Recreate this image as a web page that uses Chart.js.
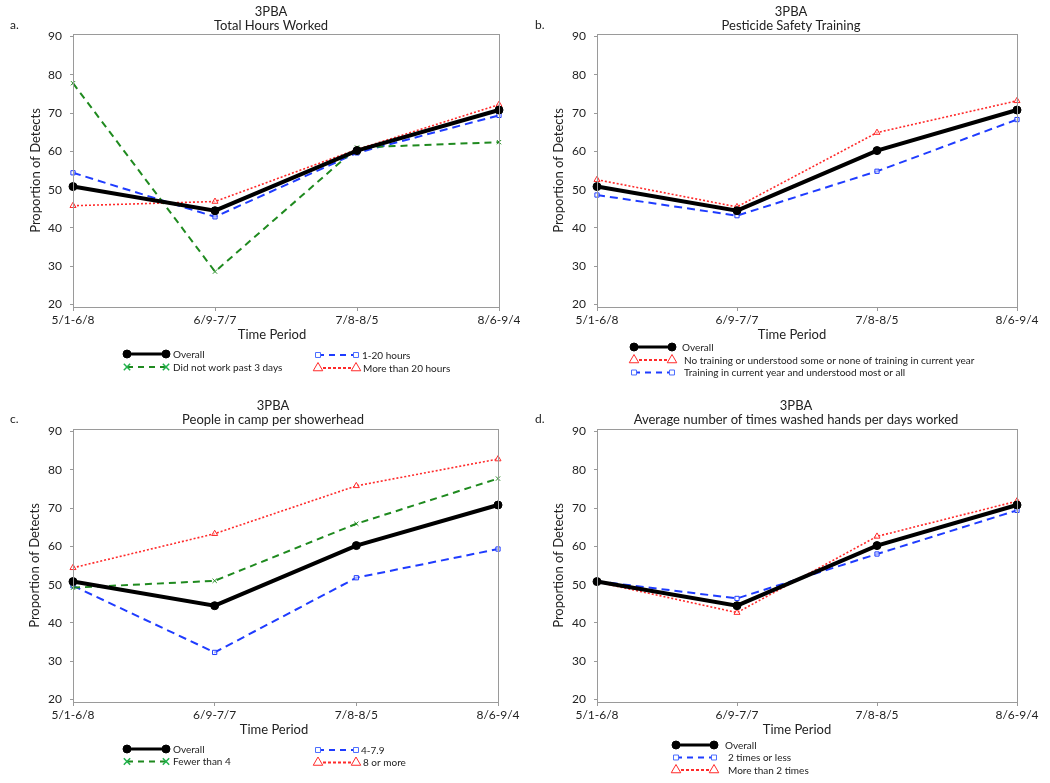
<!DOCTYPE html>
<html>
<head>
<meta charset="utf-8">
<script src="https://cdn.jsdelivr.net/npm/chart.js@4/dist/chart.umd.min.js"></script>
<style>
  html, body { margin: 0; padding: 0; background: #fff; }
  #wrap { position: relative; width: 1050px; height: 783px; }
  .panel { position: absolute; }
</style>
</head>
<body>
<div id="wrap">
  <div class="panel" style="left:0;top:0;width:520px;height:394px"><canvas id="chartA"></canvas></div>
  <div class="panel" style="left:520px;top:0;width:530px;height:394px"><canvas id="chartB"></canvas></div>
  <div class="panel" style="left:0;top:394px;width:520px;height:389px"><canvas id="chartC"></canvas></div>
  <div class="panel" style="left:520px;top:394px;width:530px;height:389px"><canvas id="chartD"></canvas></div>
</div>
<script>
// Time periods shared by all four panels
const periods = ['5/1-6/8', '6/9-7/7', '7/8-8/5', '8/6-9/4'];
const yTicks = [20, 30, 40, 50, 60, 70, 80, 90];
const overall = [50.8, 44.5, 60.2, 70.8];

// a. Total hours worked
const hoursNotWorked = [77.8, 28.6, 61.0, 62.4];
const hours1to20 = [54.4, 42.9, 59.6, 69.4];
const hoursOver20 = [45.8, 46.9, 60.5, 72.2];

// b. Pesticide safety training
const noTraining = [52.6, 45.5, 64.9, 73.2];
const training = [48.6, 43.2, 54.8, 68.3];

// c. People in camp per showerhead
const showerUnder4 = [49.2, 51.0, 65.9, 77.7];
const shower4to79 = [49.7, 32.3, 51.8, 59.3];
const shower8plus = [54.4, 63.3, 75.8, 82.8];

// d. Hand washing per day worked
const wash2orLess = [50.9, 46.4, 58.0, 69.4];
const washOver2 = [50.7, 42.7, 62.6, 71.8];

const FONT = 'Lato, "Open Sans", sans-serif';
const BLACK = '#000000', GREEN = '#1f8a1f', BLUE = '#1f3cff', RED = '#ff2a2a';
const AXIS = '#9a9a9a';

// series styles (lw/lr/ldash = legend sample)
const styles = {
  overall: { color: BLACK, width: 4, dash: [], point: 'circle', r: 4, fill: BLACK, lw: 3, lr: 4, ldash: [] },
  green:   { color: GREEN, width: 2, dash: [7, 5], point: 'crossRot', r: 3, fill: 'rgba(0,0,0,0)', lw: 2, lr: 4.5, ldash: [6, 5], legendColor: '#22b14c' },
  blue:    { color: BLUE, width: 2, dash: [8, 5], point: 'rect', r: 3, fill: 'rgba(255,255,255,0.6)', lw: 2, lr: 3.5, ldash: [6, 5], legendColor: '#4a6cff' },
  red:     { color: RED, width: 1.6, dash: [2, 2], point: 'triangle', r: 3.5, fill: 'rgba(255,255,255,0.6)', lw: 1.8, lr: 5.5, ldash: [3, 2] }
};

function series(label, data, style) {
  const s = styles[style];
  return {
    label: label,
    data: data,
    borderColor: s.color,
    borderWidth: s.width,
    borderDash: s.dash,
    pointStyle: s.point,
    pointRadius: s.r,
    pointBorderWidth: 1,
    pointBorderColor: s.color,
    pointBackgroundColor: s.fill,
    tension: 0,
    clip: false,
    styleKey: style
  };
}

// draws the plot box, panel letter, two-line title, x title and legend
const decorations = {
  id: 'decorations',
  afterDraw(chart) {
    const p = chart.options.plugins.decorations;
    const ctx = chart.ctx;
    const area = chart.chartArea;
    ctx.save();
    ctx.strokeStyle = AXIS;
    ctx.lineWidth = 1;
    ctx.setLineDash([]);
    ctx.strokeRect(Math.round(area.left) + 0.5, Math.round(area.top) + 0.5,
      Math.round(area.right - area.left), Math.round(area.bottom - area.top));

    ctx.fillStyle = '#222';
    ctx.textBaseline = 'middle';
    ctx.textAlign = 'left';
    ctx.font = '12px ' + FONT;
    ctx.fillText(p.letter, p.letterX, 25);

    ctx.textAlign = 'center';
    ctx.font = '13px ' + FONT;
    ctx.fillText('3PBA', p.titleX, 12);
    ctx.fillText(p.title, p.titleX, 25.5);
    ctx.fillText('Time Period', p.titleX + 1, area.bottom + 28);

    ctx.font = '10px ' + FONT;
    p.legend.forEach(item => {
      const ds = chart.data.datasets[item.i];
      const s = styles[ds.styleKey];
      ctx.save();
      ctx.strokeStyle = s.color;
      ctx.lineWidth = s.lw;
      ctx.setLineDash(s.ldash);
      ctx.beginPath();
      ctx.moveTo(item.x1, item.y);
      ctx.lineTo(item.x2, item.y);
      ctx.stroke();
      ctx.setLineDash([]);
      ctx.strokeStyle = s.legendColor || s.color;
      ctx.fillStyle = ds.styleKey === 'overall' ? BLACK : '#fff';
      [item.x1, item.x2].forEach(x => {
        ctx.lineWidth = ds.styleKey === 'green' ? 1.5 : 1;
        Chart.helpers.drawPoint(ctx, { pointStyle: s.point, radius: s.lr, rotation: 0, borderWidth: ctx.lineWidth }, x, item.y);
      });
      ctx.restore();
      ctx.fillStyle = '#222';
      ctx.textAlign = 'left';
      ctx.fillText(ds.label, item.tx, item.y + 0.5);
    });
    ctx.restore();
  }
};

function makeChart(id, cfg) {
  const canvas = document.getElementById(id);
  const box = canvas.parentNode;
  const W = box.offsetWidth, H = box.offsetHeight;
  const xAxisH = 36;
  return new Chart(canvas, {
    type: 'line',
    data: { labels: periods, datasets: cfg.datasets },
    options: {
      responsive: true,
      maintainAspectRatio: false,
      animation: false,
      events: [],
      layout: {
        padding: { left: 0, top: cfg.top, right: W - cfg.right, bottom: H - cfg.bottom - xAxisH }
      },
      plugins: {
        legend: { display: false },
        title: { display: false },
        tooltip: { enabled: false },
        decorations: {
          letter: cfg.letter, letterX: cfg.letterX, title: cfg.title, titleX: cfg.titleX, legend: cfg.legend
        }
      },
      scales: {
        x: {
          type: 'category',
          offset: false,
          grid: { display: true, drawOnChartArea: false, tickLength: 4, color: AXIS },
          border: { display: false },
          ticks: { color: '#222', font: { family: FONT, size: 12 }, padding: 2, maxRotation: 0, autoSkip: false },
          afterFit(scale) { scale.height = xAxisH; scale.paddingLeft = 0; scale.paddingRight = 0; }
        },
        y: {
          min: 19.35,
          max: 90.65,
          afterBuildTicks(scale) { scale.ticks = yTicks.map(v => ({ value: v })); },
          grid: { display: true, drawOnChartArea: false, tickLength: 3, color: AXIS },
          border: { display: false },
          ticks: { color: '#222', font: { family: FONT, size: 12 }, padding: 8, callback: v => v + '' },
          title: {
            display: true, text: 'Proportion of Detects', color: '#222',
            font: { family: FONT, size: 13 }, padding: { top: cfg.yTitleX - 8, bottom: 0 }
          },
          afterFit(scale) { scale.width = cfg.left; scale.paddingTop = 0; scale.paddingBottom = 0; }
        }
      }
    },
    plugins: [decorations]
  });
}

makeChart('chartA', {
  letter: 'a.', letterX: 10, title: 'Total Hours Worked', titleX: 271,
  left: 73, right: 499, top: 34, bottom: 307, yTitleX: 36,
  datasets: [
    series('Overall', overall, 'overall'),
    series('Did not work past 3 days', hoursNotWorked, 'green'),
    series('1-20 hours', hours1to20, 'blue'),
    series('More than 20 hours', hoursOver20, 'red')
  ],
  legend: [
    { i: 0, x1: 127, x2: 166, tx: 173, y: 354 },
    { i: 1, x1: 127, x2: 166, tx: 173, y: 367 },
    { i: 2, x1: 318, x2: 356, tx: 362, y: 355 },
    { i: 3, x1: 318, x2: 356, tx: 363, y: 368 }
  ]
});

makeChart('chartB', {
  letter: 'b.', letterX: 15, title: 'Pesticide Safety Training', titleX: 271,
  left: 77, right: 497, top: 34, bottom: 307, yTitleX: 39,
  datasets: [
    series('Overall', overall, 'overall'),
    series('No training or understood some or none of training in current year', noTraining, 'red'),
    series('Training in current year and understood most or all', training, 'blue')
  ],
  legend: [
    { i: 0, x1: 114, x2: 152, tx: 162, y: 347 },
    { i: 1, x1: 114, x2: 152, tx: 164, y: 360 },
    { i: 2, x1: 114, x2: 152, tx: 164, y: 372.5 }
  ]
});

makeChart('chartC', {
  letter: 'c.', letterX: 10, title: 'People in camp per showerhead', titleX: 273,
  left: 73, right: 498, top: 35, bottom: 308, yTitleX: 35,
  datasets: [
    series('Overall', overall, 'overall'),
    series('Fewer than 4', showerUnder4, 'green'),
    series('4-7.9', shower4to79, 'blue'),
    series('8 or more', shower8plus, 'red')
  ],
  legend: [
    { i: 0, x1: 127, x2: 166, tx: 173, y: 355 },
    { i: 1, x1: 127, x2: 166, tx: 173, y: 367.5 },
    { i: 2, x1: 318, x2: 356, tx: 361, y: 356 },
    { i: 3, x1: 318, x2: 356, tx: 363, y: 368.5 }
  ]
});

makeChart('chartD', {
  letter: 'd.', letterX: 15, title: 'Average number of times washed hands per days worked', titleX: 276,
  left: 77, right: 497, top: 35, bottom: 308, yTitleX: 39,
  datasets: [
    series('Overall', overall, 'overall'),
    series('2 times or less', wash2orLess, 'blue'),
    series('More than 2 times', washOver2, 'red')
  ],
  legend: [
    { i: 0, x1: 156, x2: 194, tx: 205, y: 351 },
    { i: 1, x1: 156, x2: 194, tx: 208, y: 363.5 },
    { i: 2, x1: 156, x2: 194, tx: 208, y: 376 }
  ]
});
</script>
</body>
</html>
